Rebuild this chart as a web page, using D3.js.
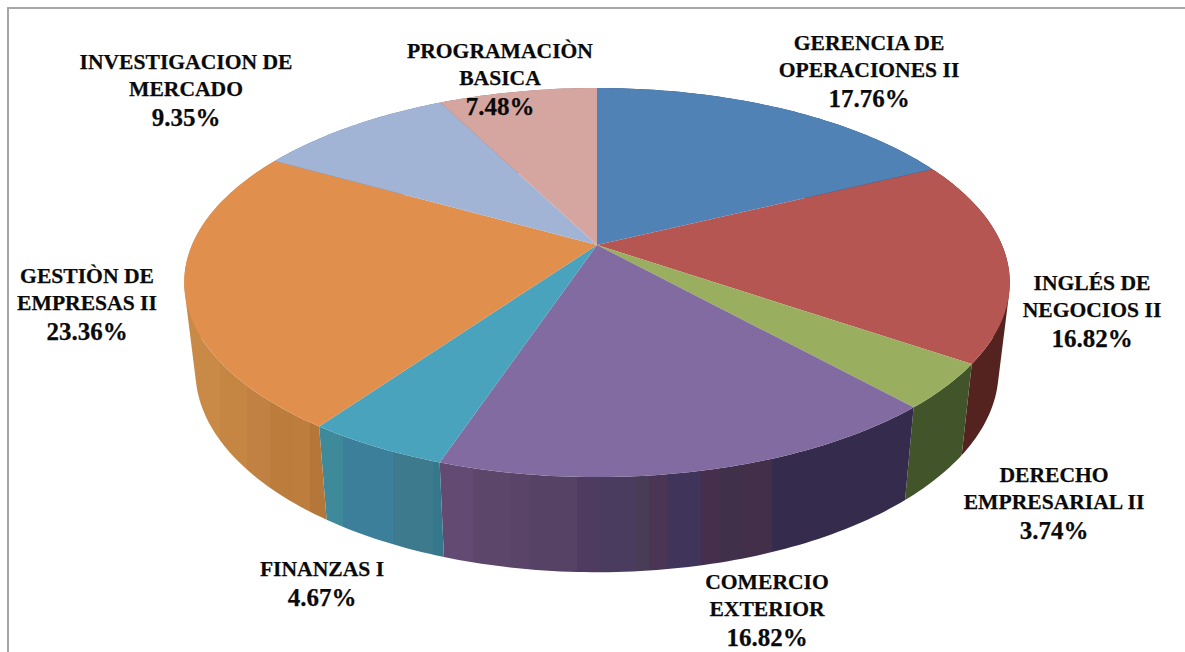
<!DOCTYPE html>
<html>
<head>
<meta charset="utf-8">
<script src="https://cdn.jsdelivr.net/npm/d3@7"></script>
<style>
    html, body { margin: 0; padding: 0; background: #fff; overflow: hidden; }
    text { font-family: "Liberation Serif", serif; font-weight: bold; fill: #0a0a0a; stroke: #0a0a0a; stroke-width: 0.25px; }
</style>
</head>
<body>
<div id="chart"></div>
<script>
// --- DATA ---
const categories = [
    "GERENCIA DE|OPERACIONES II",
    "INGLÉS DE|NEGOCIOS II",
    "DERECHO|EMPRESARIAL II",
    "COMERCIO|EXTERIOR",
    "FINANZAS I",
    "GESTIÒN DE|EMPRESAS II",
    "INVESTIGACION DE|MERCADO",
    "PROGRAMACIÒN|BASICA"
];
const percents = [17.76, 16.82, 3.74, 16.82, 4.67, 23.36, 9.35, 7.48];

// --- STYLE AND LAYOUT ---
const topColors = ["#5082b5", "#b55653", "#9aae5f", "#826ba0", "#4aa3bc", "#e08f4d", "#a2b4d6", "#d5a5a0"];
// vertical bands on the rim of each slice: [right edge of band in px, colour]
const sideBands = [
    [[1185, "#2c4a6e"]],
    [[1185, "#55231f"]],
    [[1185, "#42542a"]],
    [[473, "#634a72"], [510, "#5c4669"], [530, "#5a4569"], [577, "#554264"], [600, "#4e3b5f"],
     [636, "#4a3c5e"], [649, "#493c57"], [667, "#4a3555"], [701, "#40345a"], [720, "#462f4d"],
     [742, "#40304a"], [772, "#432f49"], [1185, "#352b4c"]],
    [[343, "#3f8a9a"], [393, "#3b7f9a"], [433, "#3d7a8e"], [1185, "#35788b"]],
    [[220, "#c98a48"], [247, "#c58644"], [270, "#c08142"], [295, "#bb7c3c"],
     [310, "#bd7d3d"], [1185, "#b5763a"]],
    [[1185, "#6a7f9f"]],
    [[1185, "#9a706c"]]
];
const labelAnchors = [
    [869, 50], [1092, 290], [1054, 482], [767, 589],
    [322, 576], [87, 283], [186, 69], [500, 58]
];
const lineHeight = 27;
const pctGap = 30;

// perspective of the pie: tilt foreshortens the far edge, the lower plane is offset and scaled
const tilt = -0.193;
const topPlane = { x: 597, y: 245, sx: 1, sy: 1 };
const bottomPlane = { x: 597, y: 332, sx: 0.973, sy: 1.035 };

const width = 1185;
const height = 652;

const svg = d3.select("#chart").append("svg")
    .attr("width", width)
    .attr("height", height);

// chart frame, only top and left are inside the picture
svg.append("path")
    .attr("d", `M8,${height} V8 H${width}`)
    .attr("fill", "none")
    .attr("stroke", "#a6a6a6")
    .attr("stroke-width", 2);

const xScale = d3.scaleLinear().domain([-1, 1]).range([-405, 405]);
const yScale = d3.scaleLinear().domain([-1, 1]).range([-187.3, 187.3]);

// angle on the pie -> screen position on one plane
function project(angle, plane) {
    const u = Math.sin(angle);
    const v = -Math.cos(angle);
    const w = 1 + tilt * v;
    return [
        plane.x + plane.sx * xScale(u / w),
        plane.y + plane.sy * yScale(v / w)
    ];
}

function rim(a0, a1, plane) {
    const n = Math.max(2, Math.ceil((a1 - a0) * 60));
    return d3.range(n + 1).map(i => project(a0 + (a1 - a0) * i / n, plane));
}

const pie = d3.pie().sort(null);
const slices = pie(percents);
const line = d3.line();
const defs = svg.append("defs");

// Rim first, the top faces cover its back half
const sides = svg.append("g");
slices.forEach((s, i) => {
    const upper = rim(s.startAngle, s.endAngle, topPlane);
    const lower = rim(s.startAngle, s.endAngle, bottomPlane);

    const grad = defs.append("linearGradient")
        .attr("id", "side" + i)
        .attr("gradientUnits", "userSpaceOnUse")
        .attr("x1", 0).attr("x2", width)
        .attr("y1", 0).attr("y2", 0);
    let from = 0;
    sideBands[i].forEach(([to, c]) => {
        grad.append("stop").attr("offset", from / width).attr("stop-color", c);
        grad.append("stop").attr("offset", to / width).attr("stop-color", c);
        from = to;
    });

    // one quad per rim step, all wound the same way or the fold at the silhouette cancels out
    const quads = d3.range(upper.length - 1).map(k => {
        const q = [upper[k], upper[k + 1], lower[k + 1], lower[k]];
        if (d3.polygonArea(q) < 0) q.reverse();
        return line(q) + "Z";
    });
    sides.append("path")
        .attr("d", quads.join(""))
        .attr("fill", `url(#side${i})`);
});

// Top faces
svg.append("g").selectAll("path")
    .data(slices)
    .enter().append("path")
    .attr("d", s => line([[topPlane.x, topPlane.y]].concat(rim(s.startAngle, s.endAngle, topPlane))) + "Z")
    .attr("fill", (s, i) => topColors[i]);

// Labels
const labels = svg.append("g").selectAll("text")
    .data(categories)
    .enter().append("text")
    .attr("text-anchor", "middle")
    .attr("font-size", 21.6);

labels.each(function(name, i) {
    const [lx, ly] = labelAnchors[i];
    const parts = name.split("|");
    const t = d3.select(this);
    parts.forEach((p, j) => {
        t.append("tspan").attr("x", lx).attr("y", ly + j * lineHeight).text(p);
    });
    t.append("tspan")
        .attr("x", lx)
        .attr("y", ly + (parts.length - 1) * lineHeight + pctGap)
        .attr("font-size", 25)
        .text(d3.format(".2f")(percents[i]) + "%");
});
</script>
</body>
</html>
